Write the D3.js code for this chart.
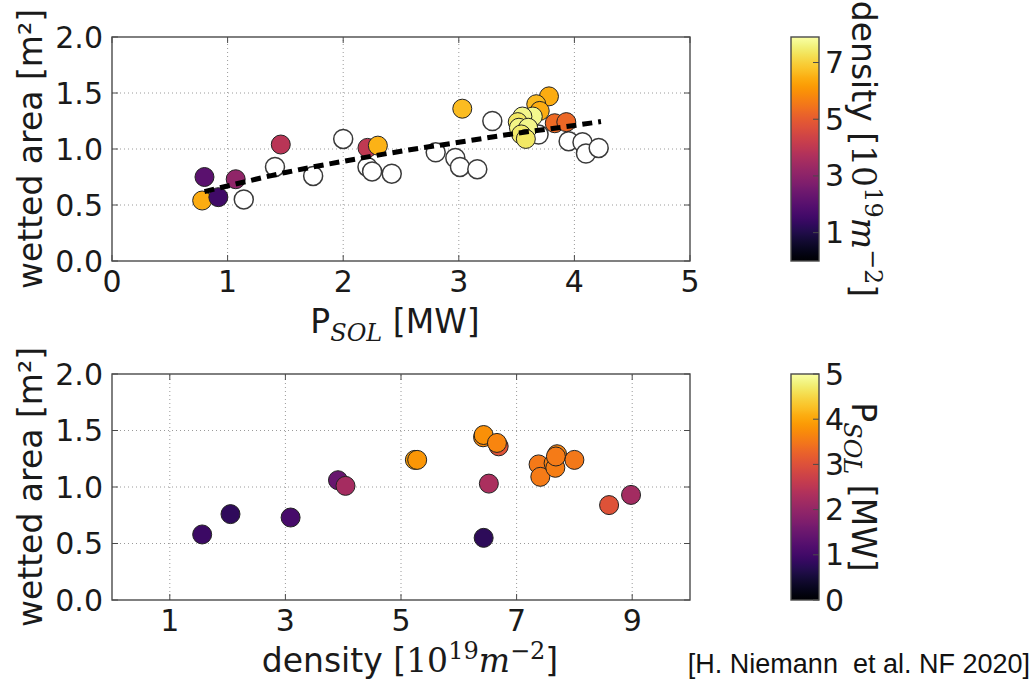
<!DOCTYPE html>
<meta charset="utf-8">
<style>
body { margin: 0; background: #fff; }
svg { font-family: "DejaVu Sans", sans-serif; }
.grid line { stroke: #9a9a9a; stroke-dasharray: 1,3; stroke-width: 1; }
.frame { fill: none; stroke: #4a4a4a; stroke-width: 1.4; }
.tickmark { stroke: #4a4a4a; stroke-width: 1; }
.ticklabel { font-size: 30px; fill: #1a1a1a; }
.label { font-size: 33px; fill: #1a1a1a; }
.math { font-family: "DejaVu Serif", serif; }
.cite { font-family: "Liberation Sans", Arial, sans-serif; font-size: 27px; fill: #111; white-space: pre; }
</style>
<svg width="1033" height="680"></svg>
<script src="https://d3js.org/d3.v7.min.js"></script>
<script>

// ---- top panel: wetted area vs P_SOL, coloured by density ----
// shots with a density value
var topPsol    = [0.78, 0.80, 0.92, 1.07, 1.46, 2.21, 2.30, 3.03, 3.78, 3.67, 3.70, 3.83, 3.93, 3.64, 3.55, 3.51, 3.52, 3.60, 3.54, 3.58];
var topArea    = [0.54, 0.75, 0.57, 0.73, 1.04, 1.01, 1.03, 1.36, 1.47, 1.40, 1.34, 1.23, 1.24, 1.29, 1.29, 1.24, 1.19, 1.19, 1.13, 1.09];
var topDensity = [6.43, 2.05, 1.56, 3.09, 3.91, 4.04, 6.52, 6.69, 6.43, 6.66, 6.42, 5.28, 5.24, 7.70, 7.68, 7.38, 7.64, 7.67, 7.41, 7.38];
// shots drawn as open circles
var openPsol = [1.14, 1.41, 1.74, 2.00, 2.21, 2.25, 2.42, 2.80, 2.97, 3.01, 3.16, 3.29, 3.69, 3.95, 4.07, 4.10, 4.21];
var openArea = [0.55, 0.84, 0.76, 1.09, 0.84, 0.80, 0.78, 0.97, 0.92, 0.84, 0.82, 1.25, 1.13, 1.07, 1.06, 0.96, 1.01];
// dashed fit curve
var fitPsol = [0.80, 1.00, 1.50, 2.00, 2.50, 3.00, 3.50, 4.00, 4.23];
var fitArea = [0.62, 0.67, 0.79, 0.89, 0.98, 1.06, 1.14, 1.21, 1.245];

// ---- bottom panel: wetted area vs density, coloured by P_SOL ----
var botDensity = [1.56, 2.05, 3.09, 3.91, 4.04, 5.24, 5.28, 6.42, 6.43, 6.69, 6.66, 6.52, 6.43, 7.38, 7.41, 7.64, 7.67, 7.70, 7.68, 8.00, 8.60, 8.98];
var botArea    = [0.58, 0.76, 0.73, 1.06, 1.01, 1.24, 1.24, 1.44, 1.46, 1.36, 1.39, 1.03, 0.55, 1.20, 1.09, 1.21, 1.17, 1.29, 1.27, 1.24, 0.84, 0.93];
var botPsol    = [0.92, 0.80, 1.07, 1.46, 2.21, 3.93, 3.83, 3.70, 3.78, 3.03, 3.67, 2.30, 0.78, 3.52, 3.54, 3.60, 3.58, 3.64, 3.55, 3.51, 3.01, 2.20];

// ticks
var topXTicks = [0, 1, 2, 3, 4, 5];
var botXTicks = [1, 3, 5, 7, 9];
var areaTicks = [0, 0.5, 1.0, 1.5, 2.0];
var densCbarTicks = [1, 3, 5, 7];
var psolCbarTicks = [0, 1, 2, 3, 4, 5];

var svg = d3.select("svg");
var R = 9.5;

// scales
var xTop = d3.scaleLinear().domain([0, 5]).range([112, 690]);
var yTop = d3.scaleLinear().domain([0, 2]).range([261, 37]);
var xBot = d3.scaleLinear().domain([0, 10]).range([112, 690]);
var yBot = d3.scaleLinear().domain([0, 2]).range([600, 374]);

var densColor = d3.scaleSequential(d3.interpolateInferno).domain([0, 7.9]).clamp(true);
var psolColor = d3.scaleSequential(d3.interpolateInferno).domain([0, 5]).clamp(true);

//Helper: grid, frame, inward ticks and tick labels for one panel
function drawAxes(x, y, xTicks, yTicks) {
  var g = svg.append("g");
  var x0 = x.range()[0], x1 = x.range()[1], y0 = y.range()[0], y1 = y.range()[1];

  var grid = g.append("g").attr("class", "grid");
  grid.selectAll(".gx").data(xTicks.filter(function(d) { return d > x.domain()[0] && d < x.domain()[1]; }))
    .enter().append("line")
      .attr("x1", x).attr("x2", x).attr("y1", y0).attr("y2", y1);
  grid.selectAll(".gy").data(yTicks.filter(function(d) { return d > y.domain()[0] && d < y.domain()[1]; }))
    .enter().append("line")
      .attr("y1", y).attr("y2", y).attr("x1", x0).attr("x2", x1);

  var t = 6;
  xTicks.forEach(function(d) {
    g.append("line").attr("class", "tickmark").attr("x1", x(d)).attr("x2", x(d)).attr("y1", y0).attr("y2", y0 - t);
    g.append("line").attr("class", "tickmark").attr("x1", x(d)).attr("x2", x(d)).attr("y1", y1).attr("y2", y1 + t);
  });
  yTicks.forEach(function(d) {
    g.append("line").attr("class", "tickmark").attr("y1", y(d)).attr("y2", y(d)).attr("x1", x0).attr("x2", x0 + t);
    g.append("line").attr("class", "tickmark").attr("y1", y(d)).attr("y2", y(d)).attr("x1", x1).attr("x2", x1 - t);
  });

  g.append("rect").attr("class", "frame")
    .attr("x", x0).attr("y", y1).attr("width", x1 - x0).attr("height", y0 - y1);

  g.selectAll(".xl").data(xTicks).enter().append("text")
    .attr("class", "ticklabel")
    .attr("x", x).attr("y", y0 + 31)
    .attr("text-anchor", "middle")
    .text(d3.format("d"));
  g.selectAll(".yl").data(yTicks).enter().append("text")
    .attr("class", "ticklabel")
    .attr("x", x0 - 9).attr("y", y).attr("dy", "0.35em")
    .attr("text-anchor", "end")
    .text(d3.format(".1f"));
  return g;
}

//Helper: vertical colorbar with inward ticks on its right edge
function drawColorbar(id, left, right, scale, ticks, fmt) {
  var grad = svg.append("defs").append("linearGradient")
      .attr("id", id).attr("x1", 0).attr("y1", 1).attr("x2", 0).attr("y2", 0);
  d3.range(0, 1.0001, 0.02).forEach(function(s) {
    grad.append("stop").attr("offset", s).attr("stop-color", d3.interpolateInferno(s));
  });
  var yy = scale.range();
  var g = svg.append("g");
  g.append("rect")
    .attr("x", left).attr("y", yy[1]).attr("width", right - left).attr("height", yy[0] - yy[1])
    .attr("fill", "url(#" + id + ")");
  ticks.forEach(function(d) {
    g.append("line").attr("class", "tickmark").attr("stroke", "#333")
      .attr("x1", right - 6).attr("x2", right).attr("y1", scale(d)).attr("y2", scale(d));
  });
  g.append("rect").attr("class", "frame")
    .attr("x", left).attr("y", yy[1]).attr("width", right - left).attr("height", yy[0] - yy[1]);
  g.selectAll(".cl").data(ticks).enter().append("text")
    .attr("class", "ticklabel")
    .attr("x", right + 6).attr("y", scale).attr("dy", "0.35em")
    .text(fmt);
}

//Helper: "P_SOL [MW]" label
function psolLabel(text) {
  text.append("tspan").text("P");
  text.append("tspan").attr("class", "math").attr("font-style", "italic").attr("font-size", 24).attr("dy", 8).text("SOL");
  text.append("tspan").attr("dy", -8).text(" [MW]");
}
//Helper: "density [10^19 m^-2]" label
function densLabel(text) {
  text.append("tspan").text("density [");
  text.append("tspan").attr("class", "math").text("10");
  text.append("tspan").attr("class", "math").attr("font-size", 24).attr("dy", -13).text("19");
  text.append("tspan").attr("class", "math").attr("font-style", "italic").attr("dy", 13).text("m");
  text.append("tspan").attr("class", "math").attr("font-size", 24).attr("dy", -13).text("\u22122");
  text.append("tspan").attr("dy", 13).text("]");
}

// ---- top panel ----
drawAxes(xTop, yTop, topXTicks, areaTicks);

var openPts = d3.range(openPsol.length).map(function(i) { return {p: openPsol[i], a: openArea[i]}; });
svg.append("g").selectAll("circle").data(openPts).enter().append("circle")
  .attr("cx", function(d) { return xTop(d.p); })
  .attr("cy", function(d) { return yTop(d.a); })
  .attr("r", R)
  .attr("fill", "#fff").attr("stroke", "#3a3a3a").attr("stroke-width", 1.5);

var topPts = d3.range(topPsol.length).map(function(i) { return {p: topPsol[i], a: topArea[i], n: topDensity[i]}; });
svg.append("g").selectAll("circle").data(topPts).enter().append("circle")
  .attr("cx", function(d) { return xTop(d.p); })
  .attr("cy", function(d) { return yTop(d.a); })
  .attr("r", R)
  .attr("fill", function(d) { return densColor(d.n); })
  .attr("stroke", "#222").attr("stroke-width", 1);

var fitPts = d3.range(fitPsol.length).map(function(i) { return [fitPsol[i], fitArea[i]]; });
svg.append("path")
  .datum(fitPts)
  .attr("fill", "none").attr("stroke", "#000").attr("stroke-width", 5).attr("stroke-dasharray", "10,6")
  .attr("d", d3.line().curve(d3.curveMonotoneX)
    .x(function(d) { return xTop(d[0]); })
    .y(function(d) { return yTop(d[1]); }));

// ---- bottom panel ----
drawAxes(xBot, yBot, botXTicks, areaTicks);

var botPts = d3.range(botDensity.length).map(function(i) { return {n: botDensity[i], a: botArea[i], p: botPsol[i]}; });
svg.append("g").selectAll("circle").data(botPts).enter().append("circle")
  .attr("cx", function(d) { return xBot(d.n); })
  .attr("cy", function(d) { return yBot(d.a); })
  .attr("r", R)
  .attr("fill", function(d) { return psolColor(d.p); })
  .attr("stroke", "#222").attr("stroke-width", 1);

// ---- axis labels ----
[yTop, yBot].forEach(function(y) {
  var cy = (y.range()[0] + y.range()[1]) / 2;
  svg.append("text").attr("class", "label")
    .attr("transform", "translate(42," + cy + ") rotate(-90)")
    .attr("text-anchor", "middle")
    .text("wetted area [m\u00b2]");
});

psolLabel(svg.append("text").attr("class", "label")
  .attr("x", 395).attr("y", 333).attr("text-anchor", "middle"));
densLabel(svg.append("text").attr("class", "label")
  .attr("x", 410).attr("y", 672).attr("text-anchor", "middle"));

// ---- colorbars ----
var cbDens = d3.scaleLinear().domain([0, 7.9]).range([261, 37]);
var cbPsol = d3.scaleLinear().domain([0, 5]).range([600, 374]);
drawColorbar("infernoTop", 791, 819, cbDens, densCbarTicks, d3.format("d"));
drawColorbar("infernoBot", 791, 819, cbPsol, psolCbarTicks, d3.format("d"));

densLabel(svg.append("text").attr("class", "label")
  .attr("transform", "translate(852,149) rotate(90)").attr("text-anchor", "middle"));
psolLabel(svg.append("text").attr("class", "label")
  .attr("transform", "translate(852,487) rotate(90)").attr("text-anchor", "middle"));

// citation
svg.append("text").attr("class", "cite")
  .attr("x", 1030).attr("y", 673).attr("text-anchor", "end")
  .text("[H. Niemann  et al. NF 2020]");

</script>
